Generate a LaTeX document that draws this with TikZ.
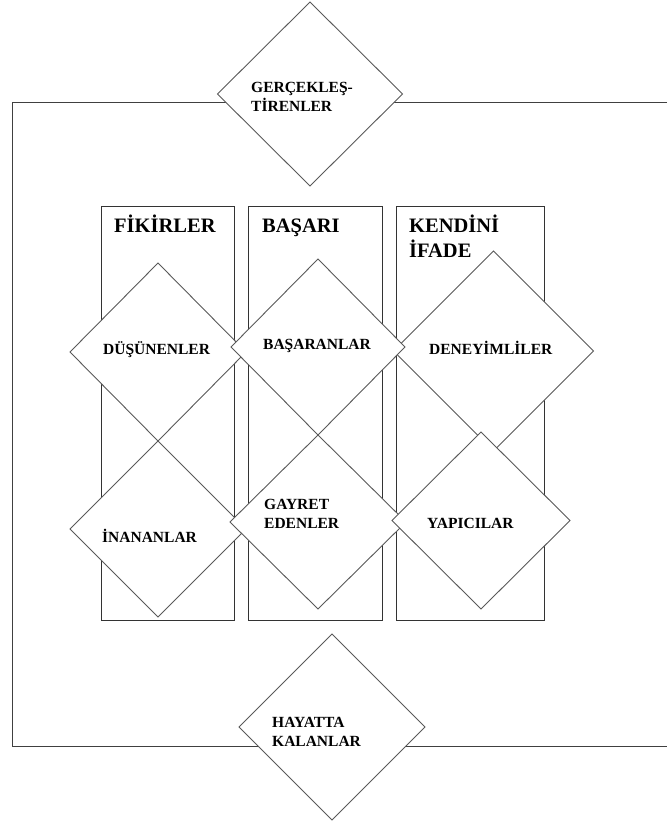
\documentclass[tikz,border=0pt]{standalone}
\usepackage{fontspec}
\setmainfont{Liberation Serif}
\usetikzlibrary{shapes.geometric}
\begin{document}
\begin{tikzpicture}[x=1pt,y=-1pt,
  colbox/.style={draw=black!80,line width=1pt},
  frameline/.style={draw=black!75,line width=1pt},
  dia/.style={shape=diamond,draw=black!65,fill=white,line width=0.9pt,inner sep=0pt,outer sep=0pt},
  head/.style={font=\fontsize{20.5}{25}\selectfont\bfseries,inner sep=0pt,anchor=base west,text=black},
  lab/.style={font=\fontsize{15.5}{19}\selectfont\bfseries,inner sep=0pt,anchor=base west,text=black}]
\useasboundingbox (0,0) rectangle (667,826);
% columns
\draw[colbox] (101,207) rectangle (234,620);
\draw[colbox] (248,207) rectangle (382,620);
\draw[colbox] (396,207) rectangle (544,620);
% outer frame
\coordinate (tl) at (12,103);
\coordinate (tr) at (667,103);
\coordinate (bl) at (12,746);
\coordinate (br) at (667,746);
\draw[frameline] (tr) -- (tl) -- (bl) -- (br);
% top and bottom diamonds
\node[dia,minimum width=185pt,minimum height=184pt] (gerc) at (310,94) {};
\node[dia,minimum width=186pt,minimum height=186pt] (hay) at (332,727) {};
% column diamonds
\node[dia,minimum width=176pt,minimum height=178pt] (dus) at (158,352) {};
\node[dia,minimum width=200pt,minimum height=200pt] (den) at (493.5,351) {};
\node[dia,minimum width=174pt,minimum height=176pt] (bas) at (318,347) {};
\node[dia,minimum width=176pt,minimum height=176pt] (ina) at (158,529) {};
\node[dia,minimum width=176pt,minimum height=174pt] (gay) at (318,522) {};
\node[dia,minimum width=178pt,minimum height=177pt] (yap) at (481,520.5) {};
% headers
\node[head] (h1) at (114,233) {FİKİRLER};
\node[head] (h2) at (262,233) {BAŞARI};
\node[head] (h3) at (409,233) {KENDİNİ};
\node[head] (h3b) at (409,257) {İFADE};
% labels
\node[lab] (l0a) at (251,93) {GERÇEKLEŞ-};
\node[lab] (l0b) at (251,112) {TİRENLER};
\node[lab] (l1) at (103,354) {DÜŞÜNENLER};
\node[lab] (l2) at (263,349) {BAŞARANLAR};
\node[lab] (l3) at (429,354) {DENEYİMLİLER};
\node[lab] (l4) at (102,542) {İNANANLAR};
\node[lab] (l5a) at (264,509) {GAYRET};
\node[lab] (l5b) at (264,528) {EDENLER};
\node[lab] (l6) at (427,528) {YAPICILAR};
\node[lab] (l7a) at (272,727) {HAYATTA};
\node[lab] (l7b) at (272,746) {KALANLAR};
\end{tikzpicture}
\end{document}
